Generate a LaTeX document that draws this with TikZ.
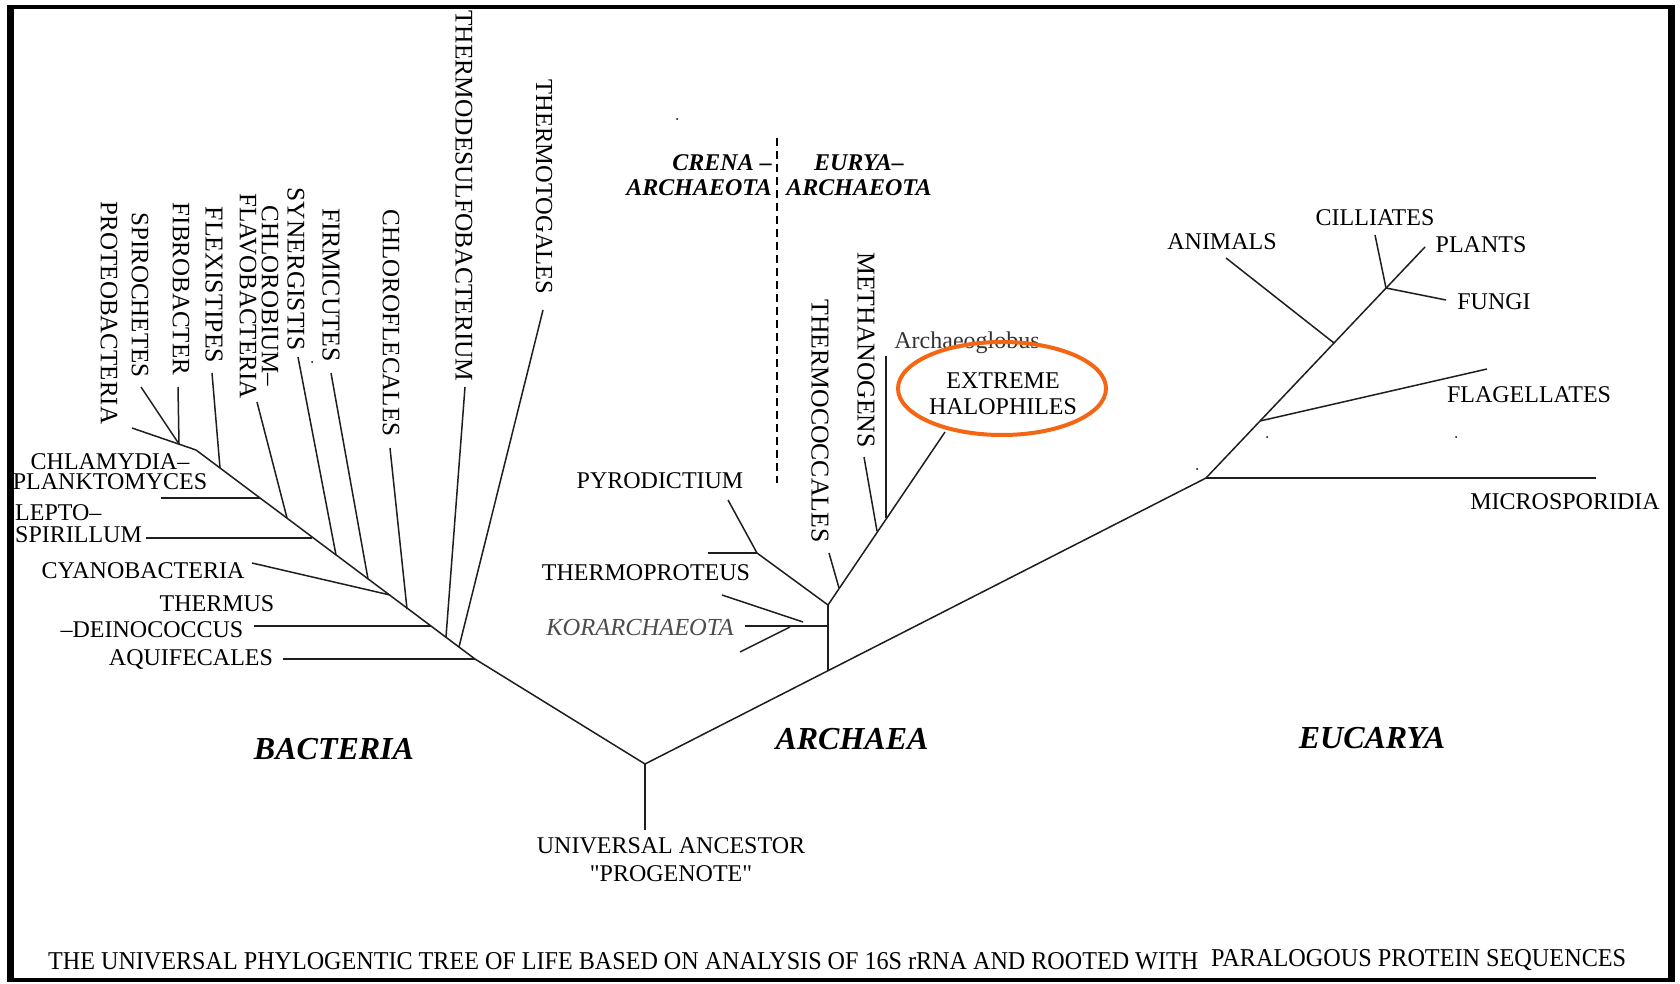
\documentclass[tikz,border=0pt]{standalone}
\usepackage{fontspec}
\setmainfont{Liberation Serif}
\newfontfamily\rawserif[Ligatures=TeXOff]{Liberation Serif}
\definecolor{halo}{RGB}{245,102,20}
\definecolor{branch}{RGB}{30,30,30}
\newcommand{\fs}[1]{\fontsize{#1}{22}\selectfont}
\begin{document}
\begin{tikzpicture}[x=1pt,y=-1pt,
  br/.style={line width=1.5pt, draw=branch},
  lab/.style={inner sep=0pt, font=\fontsize{24}{22}\selectfont},
  vlab/.style={inner sep=0pt, rotate=-90, font=\fontsize{25}{22}\selectfont},
  dom/.style={inner sep=0pt, font=\fontsize{32}{32}\selectfont\bfseries\itshape},
  grp/.style={inner sep=0pt, font=\fontsize{24}{25}\selectfont\bfseries\itshape},
  speck/.style={fill=black, circle, inner sep=0pt, minimum size=2pt}
]
\useasboundingbox (0,0) rectangle (1680,984);
\fill[white] (0,0) rectangle (1680,984);
% frame
\fill[black] (7,5) rectangle (1675,982);
\fill[white] (14,9) rectangle (1668,978);

% ---------- coordinates ----------
\coordinate (R) at (645,764);
\coordinate (Rb) at (645,830);
\coordinate (B0) at (475,659);
\coordinate (E) at (1206,478);
% bacteria trunk
\coordinate (Btop) at (196,450);
\coordinate (bTtg) at (459,647);
\coordinate (bTds) at (446,637);
\coordinate (bThe) at (431,626);
\coordinate (bClf) at (407,609);
\coordinate (bCya) at (390,595);
\coordinate (bFir) at (368,579);
\coordinate (bSyn) at (336,555);
\coordinate (bLep) at (312,538);
\coordinate (bChl) at (287,518);
\coordinate (bCla) at (260,498);
\coordinate (bFle) at (220,468);
\coordinate (bFib) at (179,444);
% bacteria leaf ends
\coordinate (eTtg) at (543,310);
\coordinate (eTds) at (465,387);
\coordinate (eClf) at (390,448);
\coordinate (eFir) at (331,373);
\coordinate (eSyn) at (298,357);
\coordinate (eChl) at (257,402);
\coordinate (eFle) at (212,373);
\coordinate (eFib) at (178,387);
\coordinate (eSpi) at (141,387);
\coordinate (ePro) at (132,428);
\coordinate (eCla) at (161,498);
\coordinate (eLep) at (146,538);
\coordinate (eCya) at (252,563);
\coordinate (eThe) at (254,626);
\coordinate (eAqu) at (283,659);
% archaea
\coordinate (A0) at (828,671);
\coordinate (AJ) at (828,605);
\coordinate (aPyr) at (757,553);
\coordinate (ePyr) at (728,500);
\coordinate (eThp) at (708,553);
\coordinate (aKor) at (828,626);
\coordinate (eKor) at (745,626);
\coordinate (kU1) at (722,595);
\coordinate (kU2) at (803,622);
\coordinate (kL1) at (740,652);
\coordinate (kL2) at (790,627);
\coordinate (aTco) at (839,588);
\coordinate (eTco) at (829,553);
\coordinate (aMet) at (877,531);
\coordinate (eMet) at (864,457);
\coordinate (aArg) at (886,518);
\coordinate (eArg) at (886,356);
\coordinate (eHal) at (945,432);
\coordinate (dT) at (777,138);
\coordinate (dB) at (777,483);
% eucarya
\coordinate (eMic) at (1596,478);
\coordinate (ePla) at (1425,247);
\coordinate (uPF) at (1386,288);
\coordinate (eCil) at (1375,235);
\coordinate (eFun) at (1446,300);
\coordinate (uAni) at (1334,343);
\coordinate (eAni) at (1226,258);
\coordinate (uFla) at (1260,421);
\coordinate (eFla) at (1487,369);

% ---------- branches ----------
\draw[br] (Rb) -- (R);
\draw[br] (R) -- (B0) -- (Btop);
\draw[br] (R) -- (E);
\draw[br] (B0) -- (eAqu);
\draw[br] (bTtg) -- (eTtg);
\draw[br] (bTds) -- (eTds);
\draw[br] (bThe) -- (eThe);
\draw[br] (bClf) -- (eClf);
\draw[br] (bCya) -- (eCya);
\draw[br] (bFir) -- (eFir);
\draw[br] (bSyn) -- (eSyn);
\draw[br] (bLep) -- (eLep);
\draw[br] (bChl) -- (eChl);
\draw[br] (bCla) -- (eCla);
\draw[br] (bFle) -- (eFle);
\draw[br] (Btop) -- (ePro);
\draw[br] (bFib) -- (eFib);
\draw[br] (bFib) -- (eSpi);

\draw[br] (A0) -- (AJ);
\draw[br] (AJ) -- (aPyr) -- (ePyr);
\draw[br] (aPyr) -- (eThp);
\draw[br] (aKor) -- (eKor);
\draw[br] (kU1) -- (kU2);
\draw[br] (kL1) -- (kL2);
\draw[br] (AJ) -- (eHal);
\draw[br] (aTco) -- (eTco);
\draw[br] (aMet) -- (eMet);
\draw[br] (aArg) -- (eArg);
\draw[line width=1.3pt, dash pattern=on 8pt off 5pt] (dT) -- (dB);

\draw[br] (E) -- (eMic);
\draw[br] (E) -- (ePla);
\draw[br] (uPF) -- (eCil);
\draw[br] (uPF) -- (eFun);
\draw[br] (uAni) -- (eAni);
\draw[br] (uFla) -- (eFla);

% specks
\node[speck] (s1) at (677,119) {};
\node[speck] (s2) at (312,362) {};
\node[speck] (s3) at (1267,437) {};
\node[speck] (s4) at (1456,437) {};
\node[speck] (s5) at (1197,469) {};

% ---------- labels: bacteria ----------
\node[vlab] (lPro) at (109,313) {PROTEOBACTERIA};
\node[vlab] (lSpi) at (140,295) {SPIROCHETES};
\node[vlab] (lFib) at (181,289) {FIBROBACTER};
\node[vlab, font=\fs{25.8}] (lFle) at (214,285) {FLEXISTIPES};
\node[vlab, align=center] (lChl) at (259,296) {CHLOROBIUM--\\FLAVOBACTERIA};
\node[vlab, font=\fs{25.4}] (lSyn) at (296,269) {SYNERGISTIS};
\node[vlab, font=\fs{25.8}] (lFir) at (331,285) {FIRMICUTES};
\node[vlab] (lClf) at (391,323) {CHLOROFLECALES};
\node[vlab, font=\fs{25.4}] (lTds) at (464,196) {THERMODESULFOBACTERIUM};
\node[vlab, font=\fs{24.5}] (lTtg) at (544,187) {THERMOTOGALES};
\node[lab, align=center, font=\fontsize{24}{20}\selectfont] (lCla) at (110,472) {CHLAMYDIA--\\PLANKTOMYCES};
\node[lab, align=left, anchor=west] (lLep) at (15,524) {LEPTO--\\SPIRILLUM};
\node[lab] (lCya) at (143,571) {CYANOBACTERIA};
\node[lab] (lThe) at (217,604) {THERMUS};
\node[lab] (lDei) at (152,630) {--DEINOCOCCUS};
\node[lab] (lAqu) at (191,659) {AQUIFECALES};
\node[dom] (lBac) at (334,749) {BACTERIA};

% ---------- labels: archaea ----------
\node[grp, align=right, anchor=east] (lCre) at (772,175) {CRENA --\\ARCHAEOTA};
\node[grp, align=center] (lEur) at (859,175) {EURYA--\\ARCHAEOTA};
\node[lab] (lPyr) at (660,481) {PYRODICTIUM};
\node[lab] (lThp) at (646,573) {THERMOPROTEUS};
\node[lab, font=\fontsize{24.5}{22}\selectfont\itshape, text=black!70] (lKor) at (640,628) {KORARCHAEOTA};
\node[vlab, font=\fs{25.7}] (lTco) at (820,421) {THERMOCOCCALES};
\node[vlab, font=\fs{25.7}] (lMet) at (866,350) {METHANOGENS};
\node[lab, text=black!80] (lArg) at (967,343) {Archaeoglobus};
\node[lab, align=center, font=\fontsize{24}{26}\selectfont] (lHal) at (1003,394) {EXTREME\\HALOPHILES};
\draw[halo, line width=4pt] (1002,388.5) ellipse [x radius=104, y radius=46.5];
\node[dom] (lArc) at (852,739) {ARCHAEA};

% ---------- labels: eucarya ----------
\node[lab] (lAni) at (1222,242) {ANIMALS};
\node[lab] (lCil) at (1375,218) {CILLIATES};
\node[lab] (lPla) at (1481,245) {PLANTS};
\node[lab] (lFun) at (1494,302) {FUNGI};
\node[lab] (lFla) at (1529,395) {FLAGELLATES};
\node[lab] (lMic) at (1565,502) {MICROSPORIDIA};
\node[dom] (lEuc) at (1372,738) {EUCARYA};

% ---------- root ----------
\node[lab] (lUA) at (671,846) {UNIVERSAL ANCESTOR};
\node[lab, font=\rawserif\fontsize{24}{22}\selectfont] (lPG) at (671,874) {"PROGENOTE"};

% ---------- caption ----------
\node[inner sep=0pt, anchor=base west] (cap1) at (48,969)
  {\resizebox{1150pt}{17pt}{\fontsize{24}{24}\selectfont THE UNIVERSAL PHYLOGENTIC TREE OF LIFE BASED ON ANALYSIS OF 16S rRNA AND ROOTED WITH}};
\node[inner sep=0pt, anchor=base west] (cap2) at (1211,966)
  {\resizebox{415pt}{17pt}{\fontsize{24}{24}\selectfont PARALOGOUS PROTEIN SEQUENCES}};
\end{tikzpicture}
\end{document}
